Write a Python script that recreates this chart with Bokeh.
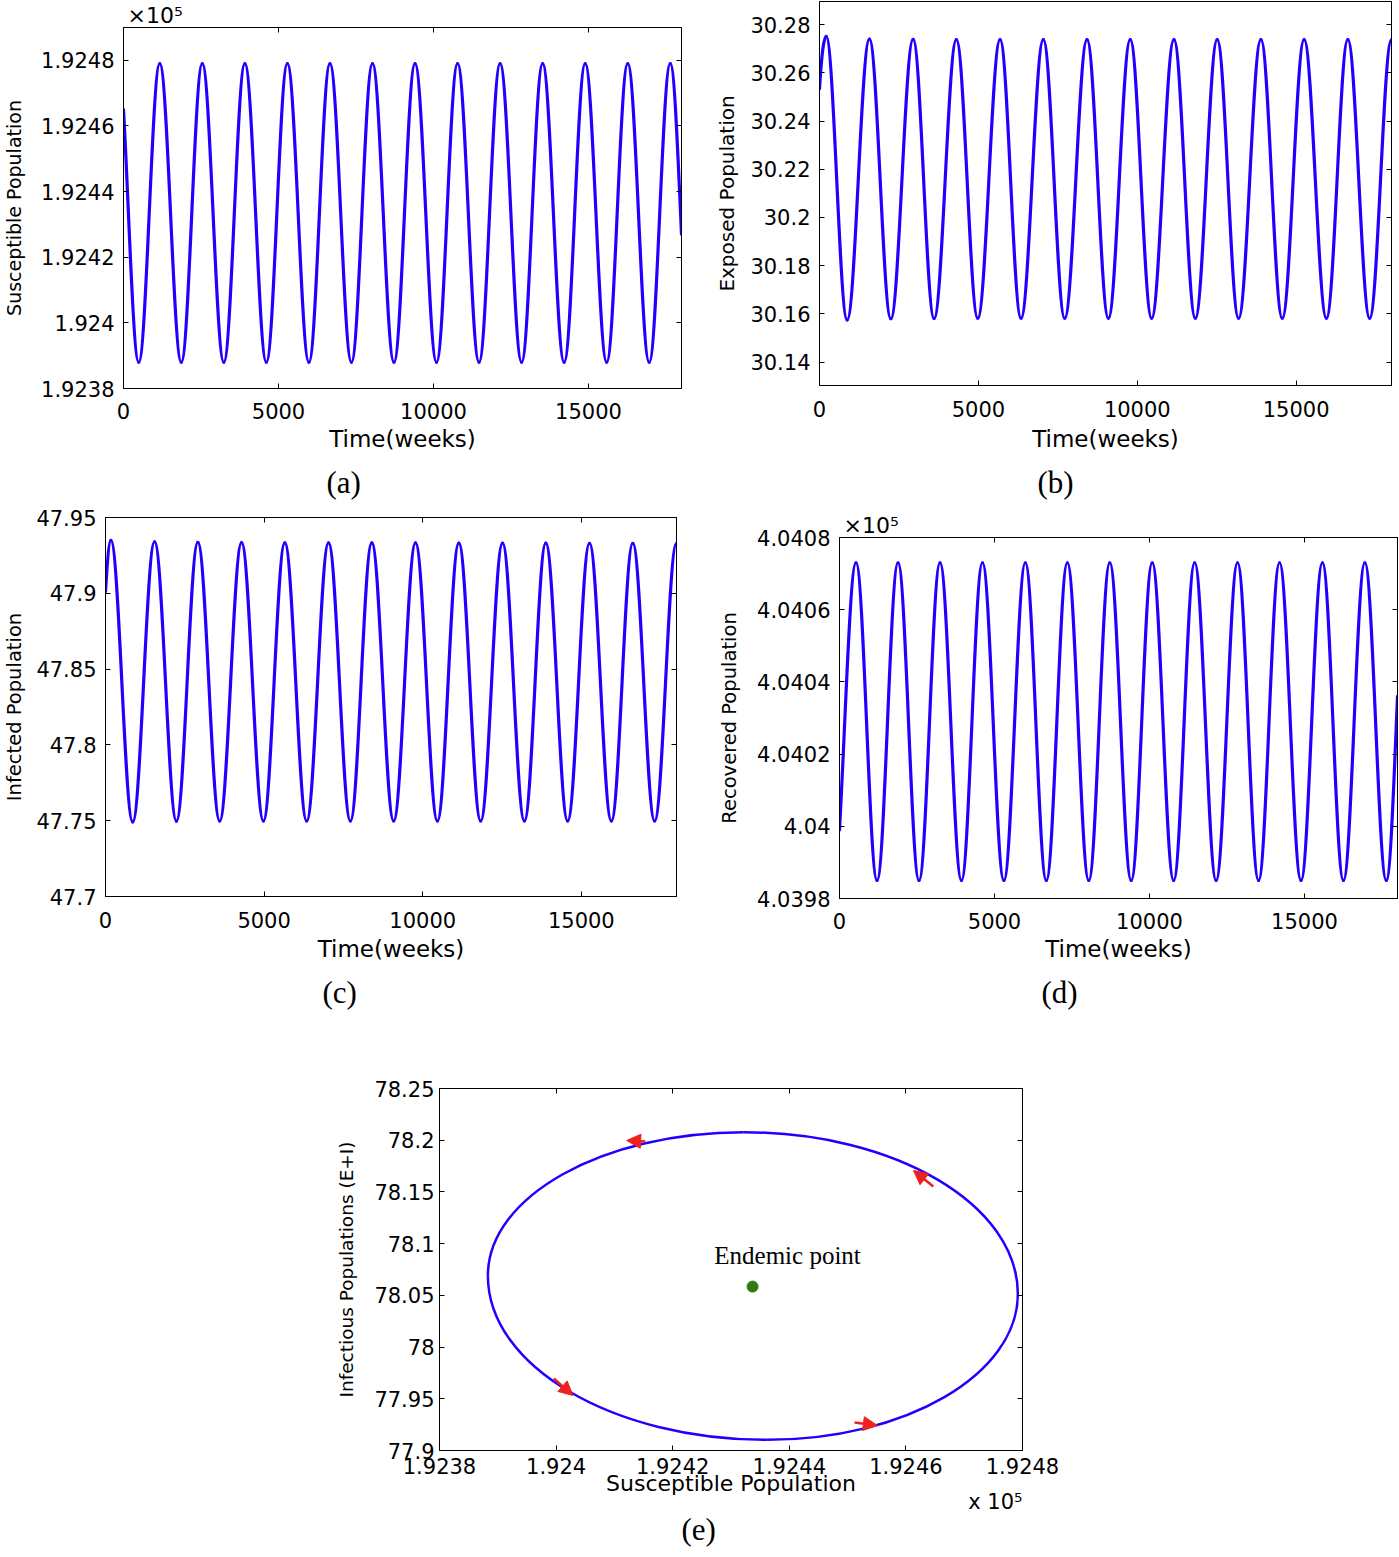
from bokeh.plotting import figure
from bokeh.models import (Range1d, FixedTicker, LinearAxis, Label, Arrow, NormalHead, Title,
                          ColumnDataSource, CustomJSTickFormatter)
from bokeh.layouts import column, row
from bokeh.embed import file_html
from bokeh.resources import INLINE

# ---------------- data ----------------
time_ticks = [0, 5000, 10000, 15000]
time_range = [0, 18000]

# (a) susceptible population (x 10^5): start, alternating troughs / peaks, end
sus_ticks = [1.9238, 1.924, 1.9242, 1.9244, 1.9246, 1.9248]
sus_time = [0, 491, 1170, 1864, 2542, 3236, 3915, 4608, 5287, 5981, 6660, 7353, 8032, 8725,
            9404, 10097, 10777, 11469, 12149, 12842, 13521, 14214, 14894, 15586, 16266, 16958,
            17638, 18000]
sus_vals = [1.92465, 1.92388, 1.92479, 1.92388, 1.92479, 1.92388, 1.92479, 1.92388, 1.92479,
            1.92388, 1.92479, 1.92388, 1.92479, 1.92388, 1.92479, 1.92388, 1.92479, 1.92388,
            1.92479, 1.92388, 1.92479, 1.92388, 1.92479, 1.92388, 1.92479, 1.92388, 1.92479,
            1.92427]

# (b) exposed population
exp_ticks = [30.14, 30.16, 30.18, 30.2, 30.22, 30.24, 30.26, 30.28]
exp_time = [0, 210, 870, 1571, 2245, 2946, 3606, 4307, 4981, 5682, 6342, 7043, 7717, 8418,
            9091, 9779, 10452, 11154, 11827, 12515, 13188, 13890, 14563, 15251, 15952, 16626,
            17313, 18000]
exp_vals = [30.2534, 30.2751, 30.1575, 30.2740, 30.1580, 30.2739, 30.1581, 30.2738, 30.1582,
            30.2738, 30.1582, 30.2738, 30.1582, 30.2738, 30.1582, 30.2738, 30.1582, 30.2738,
            30.1582, 30.2738, 30.1582, 30.2738, 30.1582, 30.2738, 30.1582, 30.2738, 30.1582,
            30.2738]

# (c) infected population
inf_ticks = [47.7, 47.75, 47.8, 47.85, 47.9, 47.95]
inf_time = [0, 169, 858, 1547, 2236, 2911, 3600, 4289, 4978, 5653, 6342, 7031, 7720, 8395,
            9084, 9773, 10463, 11138, 11827, 12516, 13205, 13880, 14569, 15258, 15947, 16622,
            17311, 18000]
inf_vals = [47.9013, 47.9349, 47.7492, 47.9340, 47.7497, 47.9336, 47.7498, 47.9334, 47.7498,
            47.9333, 47.7498, 47.9333, 47.7498, 47.9332, 47.7498, 47.9332, 47.7498, 47.9331,
            47.7498, 47.9331, 47.7498, 47.9331, 47.7498, 47.9330, 47.7498, 47.9330, 47.7498,
            47.9330]

# (d) recovered population (x 10^5)
rec_ticks = [4.0398, 4.04, 4.0402, 4.0404, 4.0406, 4.0408]
rec_time = [0, 533, 1211, 1888, 2565, 3243, 3934, 4612, 5303, 5995, 6672, 7350, 8041, 8719,
            9410, 10088, 10779, 11457, 12149, 12840, 13518, 14195, 14887, 15578, 16256, 16947,
            17639, 18000]
rec_vals = [4.03999, 4.04073, 4.03985, 4.04073, 4.03985, 4.04073, 4.03985, 4.04073, 4.03985,
            4.04073, 4.03985, 4.04073, 4.03985, 4.04073, 4.03985, 4.04073, 4.03985, 4.04073,
            4.03985, 4.04073, 4.03985, 4.04073, 4.03985, 4.04073, 4.03985, 4.04073, 4.03985,
            4.04036]

# (e) phase portrait: extreme points of the orbit (left, top, right, bottom)
orb_ticks_S = [1.9238, 1.924, 1.9242, 1.9244, 1.9246, 1.9248]
orb_ticks_EI = [77.9, 77.95, 78, 78.05, 78.1, 78.15, 78.2, 78.25]
orbit_S = [1.923883, 1.924322, 1.924792, 1.924362]
orbit_EI = [78.0690, 78.2077, 78.0514, 77.9103]
endemic_S = [1.924337]
endemic_EI = [78.0585]
arrow_S_from = [1.924153, 1.924647, 1.923996, 1.924512]
arrow_EI_from = [78.1988, 78.1553, 77.9696, 77.9271]
arrow_S_to = [1.924121, 1.924613, 1.924029, 1.924551]
arrow_EI_to = [78.1997, 78.1707, 77.9532, 77.9242]

# ---------------- styling ----------------
BLUE = "#2200ff"
RED = "#ee2020"
GREEN = "#2f7a14"
SANS = "DejaVu Sans"
SERIF = "Liberation Serif"
H = 0.3642


def wave_segments(t, v, f_start, f_end):
    """Cubic Bezier segments between consecutive read points (extrema are flat)."""
    d = dict(x0=[], y0=[], x1=[], y1=[], cx0=[], cy0=[], cx1=[], cy1=[])
    n = len(t)
    for i in range(n - 1):
        a, b, ya, yb = t[i], t[i + 1], v[i], v[i + 1]
        dt = b - a
        if i == 0 and f_start:
            c0 = (a + dt / 3, ya + f_start * (yb - ya))
        else:
            c0 = (a + H * dt, ya)
        if i == n - 2 and f_end:
            c1 = (b - dt / 3, yb + f_end * (ya - yb))
        else:
            c1 = (b - H * dt, yb)
        d["x0"].append(a); d["y0"].append(ya); d["x1"].append(b); d["y1"].append(yb)
        d["cx0"].append(c0[0]); d["cy0"].append(c0[1])
        d["cx1"].append(c1[0]); d["cy1"].append(c1[1])
    return ColumnDataSource(d)


def orbit_segments(xs, ys):
    k = 0.5523
    xL, xT, xR, xB = xs
    yL, yT, yR, yB = ys
    d = dict(
        x0=[xL, xT, xR, xB], y0=[yL, yT, yR, yB],
        x1=[xT, xR, xB, xL], y1=[yT, yR, yB, yL],
        cx0=[xL, xT + k * (xR - xT), xR, xB - k * (xB - xL)],
        cy0=[yL + k * (yT - yL), yT, yR - k * (yR - yB), yB],
        cx1=[xT - k * (xT - xL), xR, xB + k * (xR - xB), xL],
        cy1=[yT, yR + k * (yT - yR), yB, yL - k * (yL - yB)],
    )
    return ColumnDataSource(d)


def panel(width, height, bl, br, bt, bb, xr, yr, xt, yt, xlabel, ylabel,
          ylab_size="19.5px", xlab_size="23px", tick_size="21px",
          x_std=14, y_std=9, xlab_std=6, ylab_std=13, top_axis=True):
    p = figure(width=width, height=height, x_range=Range1d(*xr), y_range=Range1d(*yr),
               output_backend="svg", toolbar_location=None, title=None,
               min_border_left=bl, min_border_right=br, min_border_top=bt, min_border_bottom=bb)
    if "frame_align" in p.properties():
        p.frame_align = False
    p.grid.visible = False
    p.outline_line_color = "black"
    p.outline_line_width = 1
    p.background_fill_color = "white"
    p.border_fill_color = "white"
    fmt = CustomJSTickFormatter(code="return String(tick);")
    for ax, ticks, std in ((p.xaxis[0], xt, x_std), (p.yaxis[0], yt, y_std)):
        ax.ticker = FixedTicker(ticks=ticks)
        ax.formatter = fmt
        ax.major_tick_in = 5
        ax.major_tick_out = 0
        ax.minor_tick_in = 0
        ax.minor_tick_out = 0
        ax.axis_line_color = "black"
        ax.major_tick_line_color = "black"
        ax.major_label_text_font = SANS
        ax.major_label_text_font_size = tick_size
        ax.major_label_text_color = "black"
        ax.major_label_standoff = std
        ax.axis_label_text_font = SANS
        ax.axis_label_text_font_style = "normal"
        ax.axis_label_text_color = "black"
    p.xaxis[0].axis_label = xlabel
    p.xaxis[0].axis_label_text_font_size = xlab_size
    p.xaxis[0].axis_label_standoff = xlab_std
    p.yaxis[0].axis_label = ylabel
    p.yaxis[0].axis_label_text_font_size = ylab_size
    p.yaxis[0].axis_label_standoff = ylab_std
    blank = CustomJSTickFormatter(code="return '';")
    sides = [("right", yt)]
    if top_axis:
        sides.append(("above", xt))
    for side, ticks in sides:
        ax = LinearAxis(ticker=FixedTicker(ticks=ticks), formatter=blank,
                        major_tick_in=5, major_tick_out=0, minor_tick_in=0, minor_tick_out=0,
                        major_label_standoff=0, major_label_text_font_size="1px",
                        axis_label_standoff=0,
                        axis_line_color="black", major_tick_line_color="black")
        p.add_layout(ax, side)
    return p


def caption(p, text, offset, standoff):
    p.add_layout(Title(text=text, align="left", offset=offset, standoff=standoff,
                       text_font=SERIF, text_font_size="31px", text_font_style="normal",
                       text_color="black"), "below")


def power_title(p, text, side, align, offset, standoff, size):
    p.add_layout(Title(text=text, align=align, offset=offset, standoff=standoff,
                       text_font=SANS, text_font_size=size, text_font_style="normal",
                       text_color="black"), side)


def wave(p, t, v, f0, f1):
    p.bezier(x0="x0", y0="y0", x1="x1", y1="y1", cx0="cx0", cy0="cy0", cx1="cx1", cy1="cy1",
             source=wave_segments(t, v, f0, f1), line_color=BLUE, line_width=3.2,
             line_cap="round")


# ---- (a)  frame 123..681 x 27..388
pa = panel(700, 508, 123, 19, 27, 120, time_range, (1.9238, 1.9249), time_ticks, sus_ticks,
           "Time(weeks)", "Susceptible Population", ylab_size="19px",
           x_std=14, xlab_std=4, ylab_std=13)
wave(pa, sus_time, sus_vals, 0.35, 0.48)
power_title(pa, "×10⁵", "above", "left", 4, 0, "22px")
caption(pa, "(a)", 203, 17)

# ---- (b)  frame 819..1391 x 1..385
pb = panel(699, 508, 119, 8, 1, 123, time_range, (30.1303, 30.2896), time_ticks, exp_ticks,
           "Time(weeks)", "Exposed Population", ylab_size="20px",
           x_std=15, xlab_std=6, ylab_std=8, top_axis=False)
wave(pb, exp_time, exp_vals, 0.66, 0)
caption(pb, "(b)", 218, 17)

# ---- (c)  frame 104..676 x 517..896
pc = panel(700, 522, 104, 24, 9, 134, time_range, (47.7, 47.95), time_ticks, inf_ticks,
           "Time(weeks)", "Infected Population", ylab_size="19.5px",
           x_std=15, xlab_std=5, ylab_std=7)
wave(pc, inf_time, inf_vals, 0.54, 0)
caption(pc, "(c)", 217, 17)

# ---- (d)  frame 839..1397 x 537..898
pd_ = panel(699, 522, 139, 2, 29, 132, time_range, (4.0398, 4.0408), time_ticks, rec_ticks,
            "Time(weeks)", "Recovered Population", ylab_size="19.5px",
            x_std=14, xlab_std=4, ylab_std=13)
wave(pd_, rec_time, rec_vals, 0.36, 0.48)
power_title(pd_, "×10⁵", "above", "left", 4, 0, "22px")
caption(pd_, "(d)", 202, 16)

# ---- (e)  frame 439..1022 x 1088..1450
pe = panel(1100, 527, 439, 78, 58, 107, (1.9238, 1.9248), (77.9, 78.25), orb_ticks_S,
           orb_ticks_EI, "Susceptible Population", "Infectious Populations (E+I)",
           ylab_size="18.5px", xlab_size="22px", x_std=7, y_std=5, xlab_std=-6, ylab_std=14)
pe.bezier(x0="x0", y0="y0", x1="x1", y1="y1", cx0="cx0", cy0="cy0", cx1="cx1", cy1="cy1",
          source=orbit_segments(orbit_S, orbit_EI), line_color=BLUE, line_width=2.5)
pe.scatter(x=endemic_S, y=endemic_EI, size=11, color=GREEN)
pe.add_layout(Label(x=1.924397, y=78.0885, text="Endemic point", text_font=SERIF,
                    text_font_size="25px", text_align="center", text_baseline="middle",
                    text_color="black"))
arrow_src = ColumnDataSource(dict(xs=arrow_S_from, ys=arrow_EI_from, xe=arrow_S_to, ye=arrow_EI_to))
pe.add_layout(Arrow(end=NormalHead(size=14, fill_color=RED, line_color=RED), source=arrow_src,
                    x_start="xs", y_start="ys", x_end="xe", y_end="ye",
                    line_color=RED, line_width=2.5))
power_title(pe, "x 10⁵", "below", "right", 0, -30, "21px")
caption(pe, "(e)", 242, 22)

layout = column(row(pa, pb), row(pc, pd_), pe)
open("out.html", "w").write(file_html(layout, INLINE))
